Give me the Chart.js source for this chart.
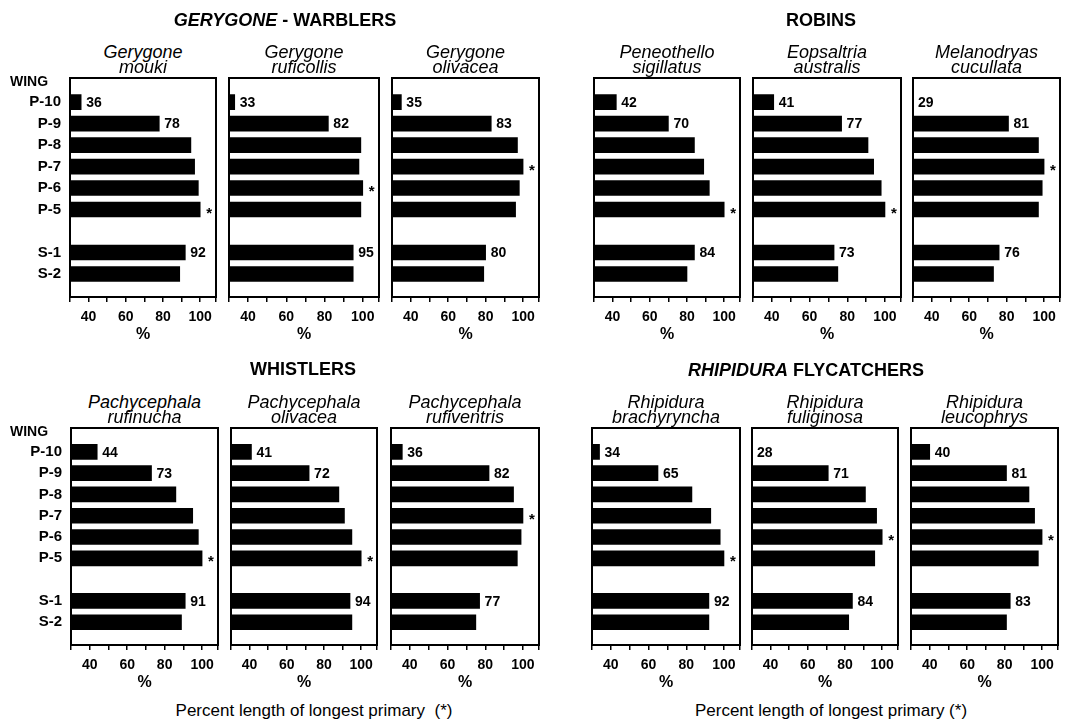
<!DOCTYPE html>
<html>
<head>
<meta charset="utf-8">
<script src="https://cdn.jsdelivr.net/npm/chart.js@4.4.1/dist/chart.umd.min.js"></script>
<style>
body { margin: 0; width: 1066px; height: 722px; position: relative; overflow: hidden; background: #fff; color: #000; }
canvas { position: absolute; }
.txt { position: absolute; white-space: nowrap; font-family: "Liberation Sans", Arial, sans-serif; }
</style>
</head>
<body>
<script>
// wing feathers, top to bottom ('' is the gap between primaries and secondaries)
var wingRows = ['P-10', 'P-9', 'P-8', 'P-7', 'P-6', 'P-5', '', 'S-1', 'S-2'];
var labelledRows = ['P-10', 'P-9', 'S-1'];
var xTickMarks = [30, 40, 50, 60, 70, 80, 90, 100];
var xTickLabels = [40, 60, 80, 100];

// percent length of longest primary
var gerygoneMouki           = [36, 78, 95, 97, 99, 100, null, 92, 89];
var gerygoneRuficollis      = [33, 82, 99, 98, 100, 99, null, 95, 95];
var gerygoneOlivacea        = [35, 83, 97, 100, 98, 96, null, 80, 79];
var peneothelloSigillatus   = [42, 70, 84, 89, 92, 100, null, 84, 80];
var eopsaltriaAustralis     = [41, 77, 91, 94, 98, 100, null, 73, 75];
var melanodryasCucullata    = [29, 81, 97, 100, 99, 97, null, 76, 73];
var pachycephalaRufinucha   = [44, 73, 86, 95, 98, 100, null, 91, 89];
var pachycephalaOlivacea    = [41, 72, 88, 91, 95, 100, null, 94, 95];
var pachycephalaRufiventris = [36, 82, 95, 100, 99, 97, null, 77, 75];
var rhipiduraBrachyryncha   = [34, 65, 83, 93, 98, 100, null, 92, 92];
var rhipiduraFuliginosa     = [28, 71, 91, 97, 100, 96, null, 84, 82];
var rhipiduraLeucophrys     = [40, 81, 93, 96, 100, 98, null, 83, 81];

var panels = [
    {name: ['Gerygone', 'mouki'], data: gerygoneMouki, row: 0, col: 0},
    {name: ['Gerygone', 'ruficollis'], data: gerygoneRuficollis, row: 0, col: 1},
    {name: ['Gerygone', 'olivacea'], data: gerygoneOlivacea, row: 0, col: 2},
    {name: ['Peneothello', 'sigillatus'], data: peneothelloSigillatus, row: 0, col: 3},
    {name: ['Eopsaltria', 'australis'], data: eopsaltriaAustralis, row: 0, col: 4},
    {name: ['Melanodryas', 'cucullata'], data: melanodryasCucullata, row: 0, col: 5},
    {name: ['Pachycephala', 'rufinucha'], data: pachycephalaRufinucha, row: 1, col: 0},
    {name: ['Pachycephala', 'olivacea'], data: pachycephalaOlivacea, row: 1, col: 1},
    {name: ['Pachycephala', 'rufiventris'], data: pachycephalaRufiventris, row: 1, col: 2},
    {name: ['Rhipidura', 'brachyryncha'], data: rhipiduraBrachyryncha, row: 1, col: 3},
    {name: ['Rhipidura', 'fuliginosa'], data: rhipiduraFuliginosa, row: 1, col: 4},
    {name: ['Rhipidura', 'leucophrys'], data: rhipiduraLeucophrys, row: 1, col: 5}
];

// layout of the boxes on the page
var boxX = [
    [[70, 216], [229, 379], [392, 539], [594, 740], [753, 901], [913, 1060]],
    [[71, 218], [231, 377], [391, 539], [592, 740], [752, 898], [911, 1058]]
];
var boxY = [[78, 297], [428, 645]];
var nameBaselines = [[58, 73], [408, 423]];

var FONT = '"Liberation Sans", Arial, sans-serif';
Chart.defaults.font.family = FONT;
Chart.defaults.color = '#000';

function addText(html, x, baseline, font, size, align) {
    var d = document.createElement('div');
    d.className = 'txt';
    d.style.font = font + ' ' + size + 'px ' + FONT;
    d.style.lineHeight = '1';
    d.innerHTML = html;
    d.style.left = x + 'px';
    d.style.top = (baseline - 0.8465 * size) + 'px';
    if (align !== 'left') d.style.transform = 'translateX(-50%)';
    document.body.appendChild(d);
}

function noPadding(s) {
    s.paddingLeft = 0;
    s.paddingRight = 0;
    s.paddingTop = 0;
    s.paddingBottom = 0;
}

// box round the plot area
var framePlugin = {
    id: 'frame',
    afterDatasetsDraw: function (chart) {
        var a = chart.chartArea, ctx = chart.ctx;
        ctx.save();
        ctx.strokeStyle = '#000';
        ctx.lineWidth = 2;
        ctx.strokeRect(a.left, a.top, a.right - a.left, a.bottom - a.top);
        ctx.restore();
    }
};

// numbers beside P-10, P-9, S-1 and a star on the longest primary
var barLabelPlugin = {
    id: 'barLabels',
    afterDatasetsDraw: function (chart) {
        var ctx = chart.ctx;
        var pts = chart.data.datasets[0].data;
        var els = chart.getDatasetMeta(0).data;
        var longest = Math.max.apply(null, pts.map(function (p) { return p.x; }));
        ctx.save();
        ctx.fillStyle = '#000';
        ctx.textAlign = 'left';
        ctx.textBaseline = 'middle';
        els.forEach(function (el, j) {
            var p = pts[j];
            var end = Math.max(el.x, chart.chartArea.left);
            if (labelledRows.indexOf(wingRows[p.y]) >= 0) {
                ctx.font = 'bold 14px ' + FONT;
                ctx.fillText(String(p.x), end + 5, el.y + 1);
            }
            if (p.x === longest) {
                ctx.font = 'bold 15px ' + FONT;
                ctx.fillText('*', end + 6, el.y + 4);
            }
        });
        ctx.restore();
    }
};

panels.forEach(function (p) {
    var bx = boxX[p.row][p.col], by = boxY[p.row];
    var first = p.col === 0;
    var padL = first ? bx[0] : 4;
    var w = bx[1] - bx[0], h = by[1] - by[0];
    var axisH = 49;

    var canvas = document.createElement('canvas');
    canvas.width = w + padL + 4;
    canvas.height = h + 4 + axisH;
    canvas.style.left = (bx[0] - padL) + 'px';
    canvas.style.top = (by[0] - 4) + 'px';
    document.body.appendChild(canvas);

    var points = [];
    for (var i = 0; i < wingRows.length; i++) {
        if (p.data[i] !== null) points.push({x: p.data[i], y: i});
    }

    new Chart(canvas, {
        type: 'bar',
        data: {
            datasets: [{
                data: points,
                backgroundColor: '#000',
                borderWidth: 0,
                barThickness: 15
            }]
        },
        options: {
            indexAxis: 'y',
            responsive: false,
            animation: false,
            layout: {padding: {left: first ? 0 : 4, right: 4, top: 4, bottom: 0}},
            plugins: {legend: {display: false}, tooltip: {enabled: false}},
            scales: {
                x: {
                    type: 'linear',
                    min: 30,
                    max: 108.5,
                    afterBuildTicks: function (s) {
                        s.ticks = xTickMarks.concat([s.max]).map(function (v) { return {value: v}; });
                    },
                    afterFit: function (s) { s.height = axisH; noPadding(s); },
                    grid: {drawOnChartArea: false, drawTicks: true, tickLength: 5, color: '#000', lineWidth: 1.5},
                    border: {display: false},
                    ticks: {
                        autoSkip: false,
                        maxRotation: 0,
                        padding: 7,
                        font: {size: 14, weight: 'bold'},
                        callback: function (v) { return xTickLabels.indexOf(v) >= 0 ? String(v) : ''; }
                    },
                    title: {display: true, text: '%', font: {size: 16, weight: 'bold'}, padding: {top: 0, bottom: 2}}
                },
                y: {
                    type: 'linear',
                    reverse: true,
                    offset: false,
                    min: -1.12,
                    max: wingRows.length - 1 + 1.07,
                    display: first,
                    afterFit: function (s) { s.width = first ? padL : 0; noPadding(s); },
                    afterBuildTicks: function (s) {
                        s.ticks = wingRows.map(function (r, i) { return {value: i}; });
                    },
                    grid: {display: false, drawTicks: false, offset: false},
                    border: {display: false},
                    ticks: {
                        autoSkip: false,
                        padding: 9,
                        font: {size: 15, weight: 'bold'},
                        callback: function (v) { return wingRows[v]; }
                    }
                }
            }
        },
        plugins: [framePlugin, barLabelPlugin]
    });

    var cx = (bx[0] + bx[1]) / 2;
    addText(p.name[0], cx, nameBaselines[p.row][0], 'italic', 18);
    addText(p.name[1], cx, nameBaselines[p.row][1], 'italic', 18);
});

// group headings and captions
addText('<i>GERYGONE</i> - WARBLERS', 285, 26, 'bold', 18);
addText('ROBINS', 821, 26, 'bold', 18);
addText('WHISTLERS', 303, 375, 'bold', 18);
addText('<i>RHIPIDURA</i> FLYCATCHERS', 806, 376, 'bold', 18);
addText('WING', 10, 86, 'bold', 14, 'left');
addText('WING', 10, 436, 'bold', 14, 'left');
addText('Percent length of longest primary&nbsp; (*)', 314, 716, 'normal', 17);
addText('Percent length of longest primary (*)', 831, 716, 'normal', 17);
</script>
</body>
</html>
